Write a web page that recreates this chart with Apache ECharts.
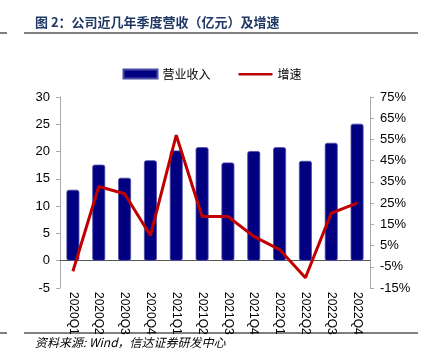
<!DOCTYPE html>
<html><head><meta charset="utf-8">
<script src="https://cdn.jsdelivr.net/npm/echarts@6/dist/echarts.min.js"></script>
<style>html,body{margin:0;padding:0;background:#fff}#c{width:424px;height:355px}</style>
</head><body><div id="c"></div>
<script>
const categories = ['2020Q1','2020Q2','2020Q3','2020Q4','2021Q1','2021Q2','2021Q3','2021Q4','2022Q1','2022Q2','2022Q3','2022Q4'];
const revenue = [13.0, 17.6, 15.2, 18.4, 20.2, 20.8, 18.0, 20.1, 20.8, 18.3, 21.6, 25.1];
const growth = [-7.1, 32.8, 29.4, 9.7, 57.0, 18.7, 18.7, 9.3, 3.1, -10.2, 20.3, 25.0];
const leftTicks = {min: -5, max: 30, interval: 5};
const rightTicks = {min: -15, max: 75, interval: 10};

const chart = echarts.init(document.getElementById('c'), null, {renderer: 'canvas'});
const font = 'Liberation Sans, Arial, sans-serif';
const cjk = '"Noto Sans CJK SC", sans-serif';
chart.setOption({
  animation: false,
  grid: {left: 60, right: 54, top: 97, bottom: 67, containLabel: false},
  legend: {
    top: 63, left: 'center', itemGap: 28, itemWidth: 34, itemHeight: 9,
    textStyle: {fontFamily: cjk, fontSize: 12, color: '#000'},
    data: [{name: '营业收入', icon: 'rect'},
           {name: '增速', icon: 'path://M0,0 M34,9 M0,3.5 L34,3.5 L34,6 L0,6 Z', itemStyle: {color: '#C00000'}}]
  },
  xAxis: {
    type: 'category', data: categories,
    axisLine: {onZero: true, lineStyle: {color: '#555', width: 1}},
    axisTick: {inside: true, length: 3, lineStyle: {color: '#999'}},
    axisLabel: {rotate: -90, interval: 0, fontFamily: font, fontSize: 12, color: '#000', margin: 4}
  },
  yAxis: [
    {type: 'value', min: leftTicks.min, max: leftTicks.max, interval: leftTicks.interval,
     splitLine: {show: false},
     axisLine: {show: true, lineStyle: {color: '#aaa'}},
     axisTick: {show: true, length: 4, lineStyle: {color: '#aaa'}},
     axisLabel: {fontFamily: font, fontSize: 13, color: '#000', margin: 10}},
    {type: 'value', min: rightTicks.min, max: rightTicks.max, interval: rightTicks.interval,
     splitLine: {show: false},
     axisLine: {show: true, lineStyle: {color: '#aaa'}},
     axisTick: {show: true, length: 4, lineStyle: {color: '#aaa'}},
     axisLabel: {fontFamily: font, fontSize: 13, color: '#000', margin: 10, formatter: '{value}%'}}
  ],
  series: [
    {name: '营业收入', type: 'bar', data: revenue, yAxisIndex: 0, barWidth: '50%',
     itemStyle: {color: '#000080', borderColor: '#4a4aa8', borderWidth: 0.8, borderRadius: 2}},
    {name: '增速', type: 'line', data: growth, yAxisIndex: 1, symbol: 'none',
     lineStyle: {color: '#C00000', width: 3}, itemStyle: {color: '#C00000'}}
  ],
  graphic: [
    {type: 'text', left: 35, top: 16, style: {text: '图 2：公司近几年季度营收（亿元）及增速', font: 'bold 13px "Noto Sans CJK SC", sans-serif', fill: '#1F3864'}},
    {type: 'line', shape: {x1: 0, y1: 33, x2: 7, y2: 33}, style: {stroke: '#000', lineWidth: 1}},
    {type: 'line', shape: {x1: 24, y1: 33, x2: 418, y2: 33}, style: {stroke: '#000', lineWidth: 1}},
    {type: 'line', shape: {x1: 0, y1: 333, x2: 7, y2: 333}, style: {stroke: '#000', lineWidth: 1}},
    {type: 'line', shape: {x1: 24, y1: 333, x2: 418, y2: 333}, style: {stroke: '#000', lineWidth: 1}},
    {type: 'text', left: 35, top: 336, style: {text: '资料来源: Wind，信达证券研发中心', font: 'italic 12px "Noto Sans CJK SC", sans-serif', fill: '#000'}}
  ]
});
</script></body></html>
